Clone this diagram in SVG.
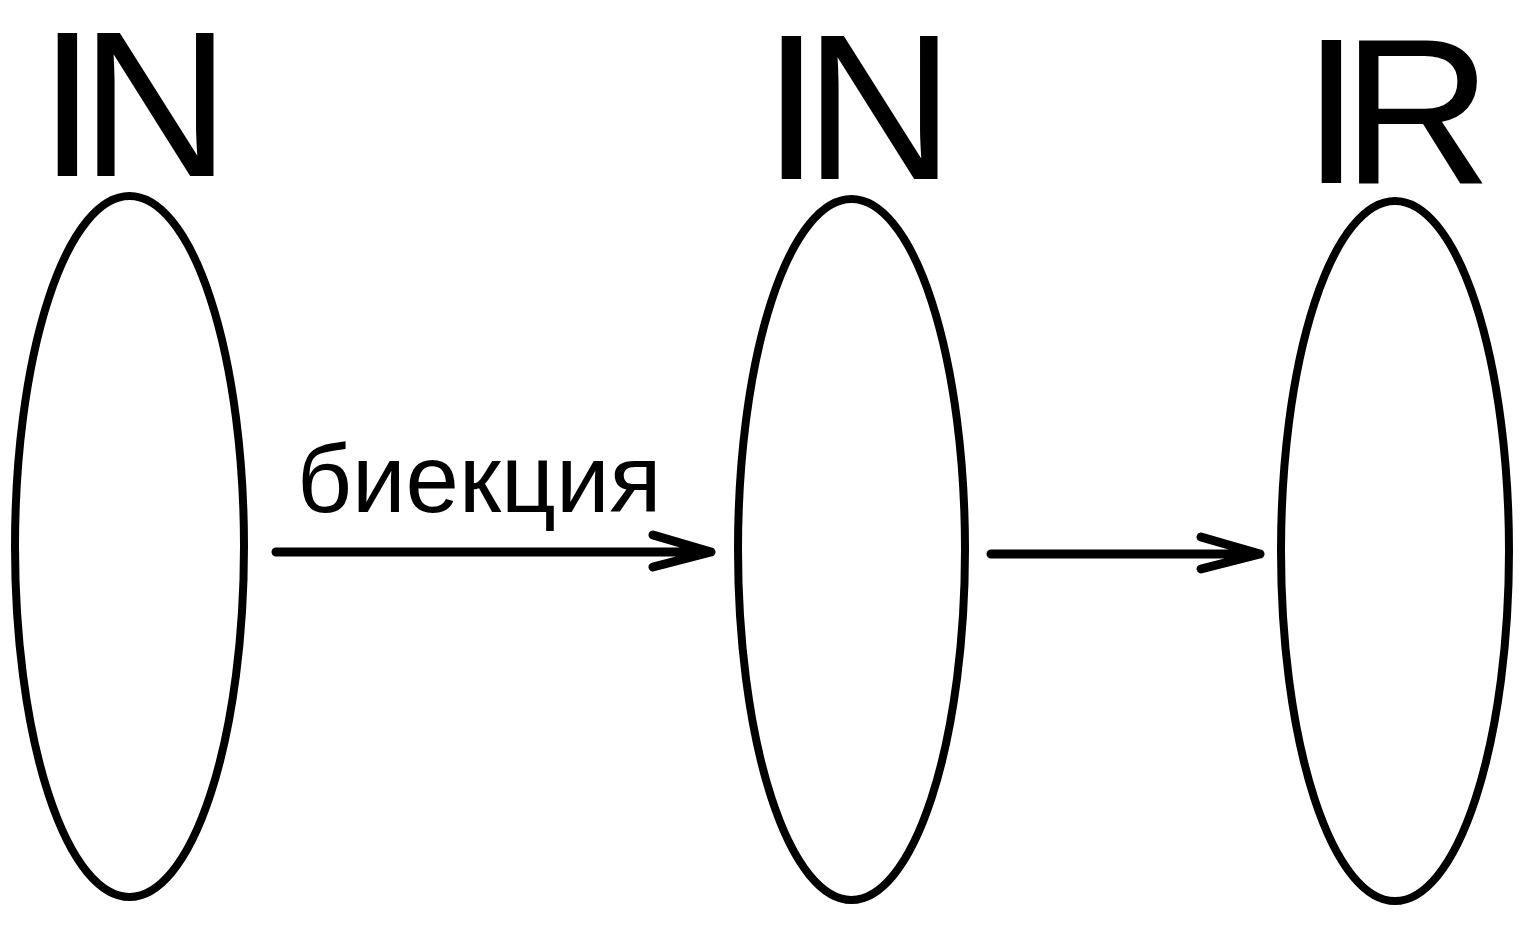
<svg xmlns="http://www.w3.org/2000/svg" width="1525" height="935" viewBox="0 0 1525 935">
<style>
.set{fill:none;stroke:#000;stroke-width:8}
.big{font-family:"Liberation Sans",Arial,sans-serif;font-size:208px;fill:#000}
.lbl{font-family:"Liberation Sans",Arial,sans-serif;font-size:96px;fill:#000}
.edge{fill:none;stroke:#000;stroke-width:9;stroke-linecap:round;stroke-linejoin:round}
</style>
<rect width="1525" height="935" fill="#fff"/>
<g id="node-N1">
<ellipse class="set" cx="129.5" cy="546.5" rx="114.5" ry="350.5"/>
<text class="big" x="38.6" y="176" letter-spacing="-16.2">IN</text>
</g>
<g id="node-N2">
<ellipse class="set" cx="851.5" cy="549.5" rx="113.5" ry="350.5"/>
<text class="big" x="762.6" y="179" letter-spacing="-16.2">IN</text>
</g>
<g id="node-R">
<ellipse class="set" cx="1395" cy="551" rx="114" ry="350"/>
<text class="big" x="1302.6" y="183" letter-spacing="-18.4">IR</text>
</g>
<g id="connectors">
<g id="edge-bijection">
<path class="edge" d="M276 552 H711 M653 535 L711 552 L653 567"/>
<text class="lbl" x="297" y="512">биекция</text>
</g>
<g id="edge-embed">
<path class="edge" d="M991 554 H1260 M1201 537 L1260 554 L1201 569"/>
</g>
</g>
</svg>
